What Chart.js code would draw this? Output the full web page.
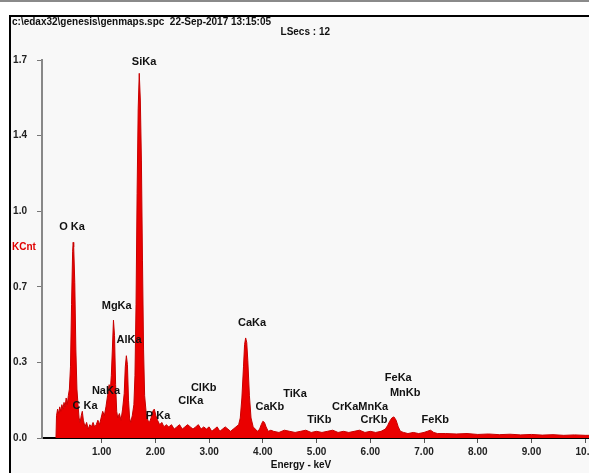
<!DOCTYPE html>
<html>
<head>
<meta charset="utf-8">
<title>EDAX spectrum</title>
<script src="https://cdn.jsdelivr.net/npm/chart.js@4.4.0/dist/chart.umd.min.js"></script>
<style>
  html, body { margin: 0; padding: 0; background: #fff; }
  canvas { display: block; }
</style>
</head>
<body>
<canvas id="spectrumChart" width="589" height="473"></canvas>
<script>
// --- Spectrum data: energy (keV) and intensity (KCnt) ---
const energy = [
    0.15, 0.16, 0.18, 0.20, 0.22, 0.24, 0.26, 0.28, 0.30, 0.32,
    0.34, 0.36, 0.38, 0.40, 0.42, 0.44, 0.46, 0.47, 0.48, 0.50,
    0.52, 0.54, 0.56, 0.58, 0.60, 0.62, 0.64, 0.66, 0.69, 0.72,
    0.75, 0.78, 0.81, 0.84, 0.87, 0.90, 0.93, 0.96, 0.99, 1.02,
    1.05, 1.08, 1.11, 1.14, 1.16, 1.18, 1.20, 1.22, 1.24, 1.26,
    1.28, 1.30, 1.33, 1.36, 1.39, 1.42, 1.44, 1.46, 1.48, 1.50,
    1.52, 1.54, 1.57, 1.60, 1.62, 1.64, 1.66, 1.68, 1.70, 1.72,
    1.74, 1.76, 1.78, 1.80, 1.83, 1.86, 1.89, 1.92, 1.95, 1.98,
    2.01, 2.04, 2.08, 2.12, 2.16, 2.20, 2.25, 2.30, 2.35, 2.40,
    2.45, 2.50, 2.55, 2.60, 2.65, 2.70, 2.75, 2.80, 2.85, 2.90,
    2.95, 3.00, 3.05, 3.10, 3.15, 3.20, 3.25, 3.30, 3.35, 3.40,
    3.45, 3.50, 3.55, 3.58, 3.61, 3.64, 3.66, 3.68, 3.70, 3.72,
    3.75, 3.78, 3.82, 3.86, 3.90, 3.94, 3.97, 4.00, 4.03, 4.06,
    4.10, 4.15, 4.20, 4.30, 4.40, 4.50, 4.60, 4.70, 4.80, 4.90,
    5.00, 5.10, 5.20, 5.30, 5.40, 5.50, 5.60, 5.70, 5.80, 5.90,
    6.00, 6.10, 6.20, 6.28, 6.32, 6.36, 6.40, 6.44, 6.48, 6.52,
    6.56, 6.62, 6.70, 6.80, 6.90, 7.00, 7.06, 7.12, 7.18, 7.25,
    7.40, 7.60, 7.80, 8.00, 8.20, 8.40, 8.60, 8.80, 9.00, 9.20,
    9.40, 9.60, 9.80, 10.00, 10.07
];
const counts = [
    0.00, 0.10, 0.13, 0.11, 0.14, 0.12, 0.15, 0.13, 0.16, 0.14,
    0.18, 0.15, 0.19, 0.22, 0.32, 0.60, 0.84, 0.88, 0.86, 0.70,
    0.40, 0.22, 0.15, 0.09, 0.07, 0.10, 0.12, 0.08, 0.05, 0.07,
    0.04, 0.06, 0.05, 0.07, 0.05, 0.06, 0.08, 0.06, 0.09, 0.12,
    0.10, 0.14, 0.19, 0.24, 0.21, 0.28, 0.40, 0.53, 0.46, 0.24,
    0.12, 0.09, 0.11, 0.08, 0.13, 0.20, 0.32, 0.37, 0.33, 0.17,
    0.09, 0.07, 0.10, 0.15, 0.28, 0.60, 1.10, 1.48, 1.64, 1.52,
    1.25, 0.80, 0.40, 0.19, 0.11, 0.08, 0.07, 0.09, 0.12, 0.13,
    0.10, 0.08, 0.06, 0.07, 0.05, 0.06, 0.05, 0.06, 0.04, 0.05,
    0.06, 0.04, 0.05, 0.06, 0.05, 0.04, 0.05, 0.06, 0.04, 0.05,
    0.04, 0.05, 0.03, 0.04, 0.05, 0.03, 0.04, 0.05, 0.04, 0.03,
    0.04, 0.05, 0.06, 0.09, 0.18, 0.32, 0.42, 0.45, 0.43, 0.35,
    0.19, 0.09, 0.05, 0.04, 0.03, 0.04, 0.06, 0.075, 0.07, 0.05,
    0.03, 0.035, 0.03, 0.025, 0.035, 0.03, 0.025, 0.03, 0.035, 0.025,
    0.03, 0.025, 0.03, 0.035, 0.025, 0.03, 0.025, 0.03, 0.035, 0.025,
    0.03, 0.025, 0.03, 0.04, 0.055, 0.075, 0.09, 0.095, 0.08, 0.05,
    0.03, 0.025, 0.02, 0.025, 0.02, 0.025, 0.03, 0.035, 0.025, 0.02,
    0.02, 0.018, 0.02, 0.016, 0.018, 0.015, 0.017, 0.014, 0.016, 0.013,
    0.015, 0.012, 0.014, 0.012, 0.012
];

// --- Axis ticks ---
const xTickValues = [1, 2, 3, 4, 5, 6, 7, 8, 9, 10];
const xTickLabels = ['1.00', '2.00', '3.00', '4.00', '5.00', '6.00', '7.00', '8.00', '9.00', '10.0'];
const yTickValues = [0, 0.34, 0.68, 1.02, 1.36, 1.7];
const yTickLabels = ['0.0', '0.3', '0.7', '1.0', '1.4', '1.7'];

// --- Peak identification labels (anchored in keV / KCnt) ---
const peakNames = ['SiKa', 'O Ka', 'MgKa', 'AlKa', 'NaKa', 'C Ka', 'P Ka', 'ClKb', 'ClKa',
    'CaKa', 'CaKb', 'TiKa', 'TiKb', 'CrKaMnKa', 'CrKb', 'FeKa', 'MnKb', 'FeKb'];
const peakLabelEnergy = [1.79, 0.45, 1.28, 1.51, 1.08, 0.69, 2.05, 2.90, 2.66,
    3.80, 4.13, 4.60, 5.05, 5.81, 6.07, 6.52, 6.65, 7.21];
const peakLabelKCnt = [1.69, 0.95, 0.595, 0.44, 0.21, 0.144, 0.10, 0.225, 0.167,
    0.518, 0.14, 0.198, 0.081, 0.14, 0.081, 0.27, 0.203, 0.081];

const headerLine = 'c:\\edax32\\genesis\\genmaps.spc  22-Sep-2017 13:15:05';
const liveSecs = 'LSecs : 12';

const FONT = "'Liberation Sans', Arial, sans-serif";

document.addEventListener('DOMContentLoaded', () => {
    const canvas = document.getElementById('spectrumChart');

    // Frame, header and peak labels drawn around the Chart.js plot
    const spectrumDecor = {
        id: 'spectrumDecor',
        beforeDraw(chart) {
            const ctx = chart.ctx;
            ctx.save();
            ctx.fillStyle = '#ffffff';
            ctx.fillRect(0, 0, chart.width, chart.height);
            ctx.fillStyle = '#f8f8f8';
            ctx.fillRect(10, 16, chart.width - 10, chart.height - 16);
            ctx.fillStyle = '#8a8a8a';
            ctx.fillRect(0, 0, chart.width, 2);
            ctx.fillStyle = '#000000';
            ctx.fillRect(9, 15, chart.width - 9, 2);
            ctx.fillRect(9, 15, 2, chart.height - 15);
            ctx.restore();
        },
        afterDraw(chart) {
            const ctx = chart.ctx;
            const xs = chart.scales.x;
            const ys = chart.scales.y;
            ctx.save();
            ctx.fillStyle = '#111111';
            ctx.textBaseline = 'middle';

            // header
            ctx.font = `bold 10px ${FONT}`;
            ctx.textAlign = 'left';
            ctx.fillText(headerLine, 12, 22, 338);
            ctx.textAlign = 'right';
            ctx.fillText(liveSecs, 330, 32);

            // peak labels
            ctx.font = `bold 11px ${FONT}`;
            ctx.textAlign = 'center';
            peakNames.forEach((name, i) => {
                const px = xs.getPixelForValue(peakLabelEnergy[i]);
                const py = ys.getPixelForValue(peakLabelKCnt[i]);
                ctx.fillText(name, px, py);
            });

            // axis titles
            ctx.font = `bold 10px ${FONT}`;
            ctx.fillText('Energy - keV', 301, 465);
            ctx.fillStyle = '#e00000';
            ctx.textAlign = 'left';
            ctx.fillText('KCnt', 12, 247);
            ctx.restore();
        }
    };

    new Chart(canvas.getContext('2d'), {
        type: 'line',
        data: {
            datasets: [{
                data: energy.map((e, i) => ({ x: e, y: counts[i] })),
                borderColor: 'rgb(200, 0, 0)',
                backgroundColor: 'rgb(234, 0, 0)',
                borderWidth: 1,
                fill: 'origin',
                pointRadius: 0,
                tension: 0
            }]
        },
        options: {
            responsive: false,
            animation: false,
            layout: { padding: { top: 60, right: 0, bottom: 0, left: 0 } },
            plugins: {
                legend: { display: false },
                tooltip: { enabled: false }
            },
            scales: {
                x: {
                    type: 'linear',
                    min: -0.11,
                    max: 10.07,
                    afterBuildTicks: scale => { scale.ticks = xTickValues.map(v => ({ value: v })); },
                    afterFit: scale => { scale.height = 35; scale.paddingLeft = 0; scale.paddingRight = 0; },
                    ticks: {
                        autoSkip: false,
                        maxRotation: 0,
                        padding: 3,
                        color: '#222222',
                        font: { family: FONT, size: 10, weight: 'bold' },
                        callback: (value, index) => xTickLabels[index]
                    },
                    grid: { drawOnChartArea: false, drawTicks: true, tickLength: 5, color: '#555555' },
                    border: { color: '#000000', width: 2 }
                },
                y: {
                    type: 'linear',
                    min: 0,
                    max: 1.7,
                    afterBuildTicks: scale => { scale.ticks = yTickValues.map(v => ({ value: v })); },
                    afterFit: scale => { scale.width = 42; scale.paddingTop = 0; scale.paddingBottom = 0; },
                    ticks: {
                        autoSkip: false,
                        padding: 10,
                        color: '#222222',
                        font: { family: FONT, size: 10, weight: 'bold' },
                        callback: (value, index) => yTickLabels[index]
                    },
                    grid: { drawOnChartArea: false, drawTicks: true, tickLength: 5, color: '#777777' },
                    border: { color: '#888888', width: 2 }
                }
            }
        },
        plugins: [spectrumDecor]
    });
});
</script>
</body>
</html>
